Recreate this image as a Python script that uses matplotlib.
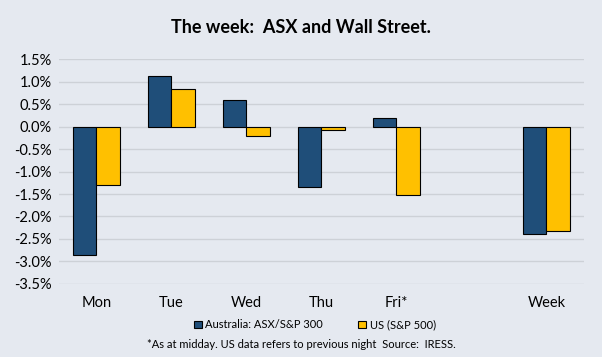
import numpy as np
import matplotlib.pyplot as plt
from matplotlib.patches import Patch
from matplotlib.ticker import FuncFormatter

plt.rcParams['font.family'] = ['Lato', 'DejaVu Sans']

# дані з графіка (%)
days = ['Mon', 'Tue', 'Wed', 'Thu', 'Fri*', '', 'Week']
asx = [-2.85, 1.12, 0.59, -1.35, 0.19, np.nan, -2.39]
us = [-1.31, 0.84, -0.21, -0.07, -1.52, np.nan, -2.32]

bg = '#E5E9F0'
navy = '#1F4E79'
gold = '#FFC000'

fig = plt.figure(figsize=(6.02, 3.57), dpi=100, facecolor=bg)
ax = fig.add_axes([0.098, 0.2045, 0.872, 0.6302], facecolor=bg)

x = np.arange(len(days))
w = 0.31
ax.bar(x - w / 2, asx, w, color=navy, edgecolor='black', linewidth=0.8, zorder=3)
ax.bar(x + w / 2, us, w, color=gold, edgecolor='black', linewidth=0.8, zorder=3)

ax.set_xlim(-0.5, len(days) - 0.5)
ax.set_ylim(-3.5, 1.5)
ax.set_yticks(np.arange(-3.5, 1.51, 0.5))
ax.yaxis.set_major_formatter(FuncFormatter(lambda v, p: f'{v:.1f}%'))
ax.set_xticks(x)
ax.set_xticklabels(days)
ax.tick_params(axis='both', length=0, labelsize=10.5, colors='black')
ax.tick_params(axis='x', pad=9)
ax.tick_params(axis='y', pad=5)
ax.grid(axis='y', color='#CDD1D7', linewidth=1, zorder=0)
for s in ax.spines.values():
    s.set_visible(False)

fig.text(0.5, 0.924, 'The week:  ASX and Wall Street.', ha='center', va='center',
         fontsize=13, fontweight='bold')

handles = [Patch(facecolor=navy, edgecolor='black', linewidth=0.8, label='Australia: ASX/S&P 300'),
           Patch(facecolor=gold, edgecolor='black', linewidth=0.8, label='US (S&P 500)')]
fig.legend(handles=handles, loc='center', bbox_to_anchor=(0.523, 0.09), ncol=2, frameon=False,
           fontsize=8, handlelength=0.7, handleheight=0.7, handletextpad=0.3, columnspacing=3.2)

fig.text(0.5, 0.036, '*As at midday. US data refers to previous night  Source:  IRESS.',
         ha='center', va='center', fontsize=8)

fig.savefig('out.png', dpi=100, facecolor=bg)
